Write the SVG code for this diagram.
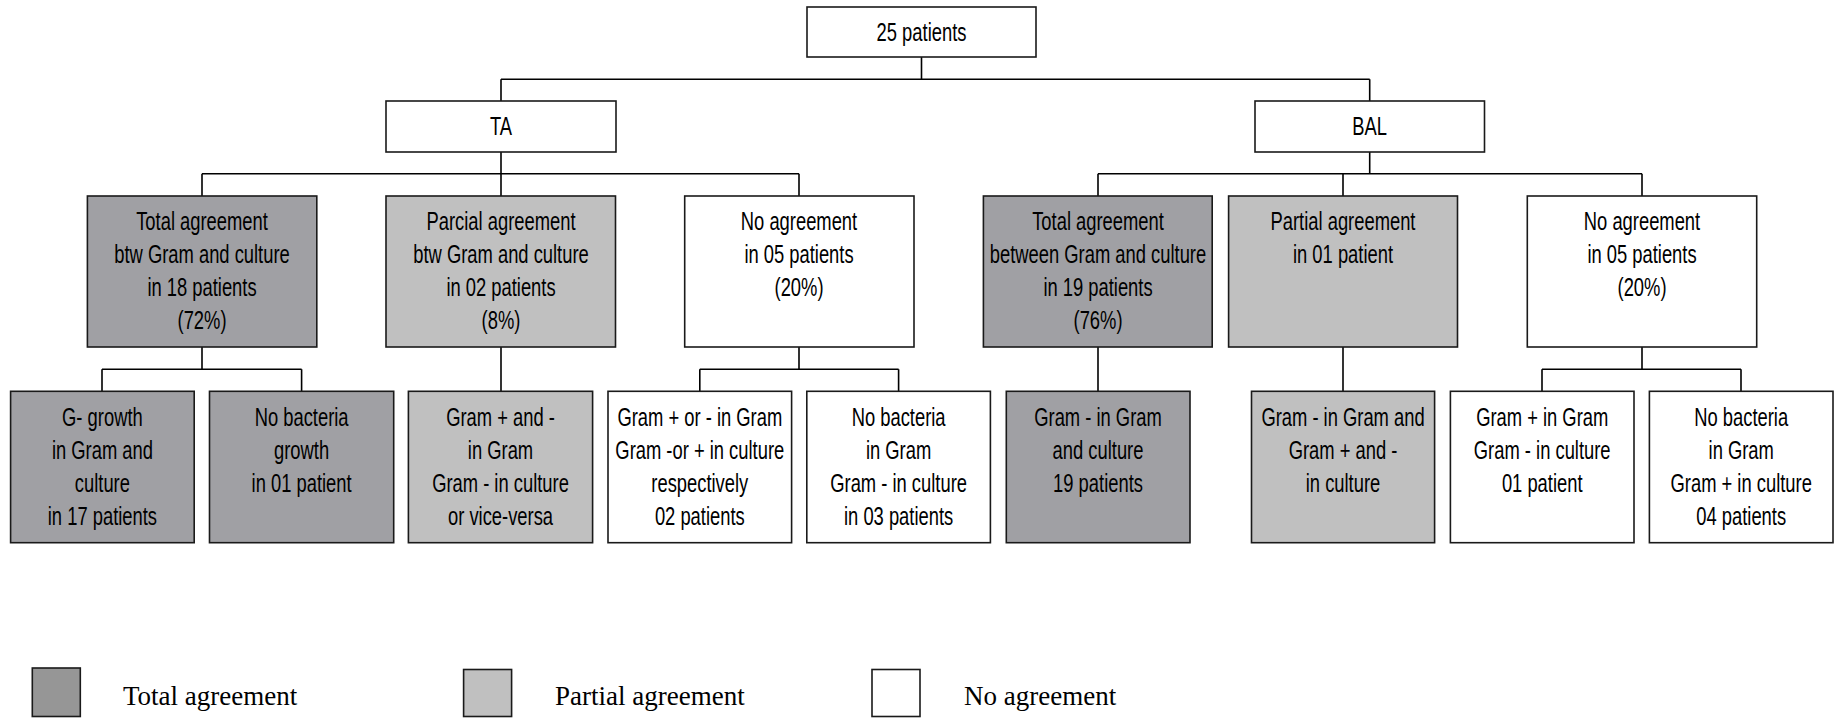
<svg xmlns="http://www.w3.org/2000/svg" width="1840" height="718" viewBox="0 0 1840 718">
<style>
.box{stroke:#1a1a1a;stroke-width:1.6}
.w{fill:#ffffff}
.d{fill:#a0a0a4}
.l{fill:#c0c0c0}
.t{font-family:"Liberation Sans",Arial,sans-serif;font-size:25px;fill:#000;text-anchor:middle}
.lg{font-family:"Liberation Serif","Times New Roman",serif;font-size:27px;fill:#000}
#connectors path{fill:none;stroke:#000;stroke-width:1.6}
</style>
<rect width="1840" height="718" fill="#fff"/>
<g id="connectors">
<path d="M921.5,57V79.3M501,79.3H1369.7M501,79.3V101M1369.7,79.3V101"/>
<path d="M501,152V173.7M202,173.7H799M202,173.7V196M501,173.7V196M799,173.7V196"/>
<path d="M1369.7,152V173.7M1098,173.7H1642M1098,173.7V196M1343,173.7V196M1642,173.7V196"/>
<path d="M202,347V369.3M102,369.3H301.6M102,369.3V391.3M301.6,369.3V391.3"/>
<path d="M501,347V391.3"/>
<path d="M799,347V369.3M699.8,369.3H898.6M699.8,369.3V391.3M898.6,369.3V391.3"/>
<path d="M1098,347V391.3"/>
<path d="M1343,347V391.3"/>
<path d="M1642,347V369.3M1542,369.3H1741M1542,369.3V391.3M1741,369.3V391.3"/>
</g>
<g id="root"><rect class="box w" x="807" y="7" width="229" height="50"/>
<text class="t" transform="translate(921.5,40.5) scale(0.735 1)" x="0">25 patients</text></g>
<g id="ta"><rect class="box w" x="386" y="101" width="230" height="51"/>
<text class="t" transform="translate(501,135) scale(0.735 1)" x="0">TA</text></g>
<g id="bal"><rect class="box w" x="1255" y="101" width="229.5" height="51"/>
<text class="t" transform="translate(1369.7,135) scale(0.735 1)" x="0">BAL</text></g>

<g id="ta-total"><rect class="box d" x="87.4" y="196" width="229.4" height="151"/>
<text class="t" transform="translate(202,229.5) scale(0.735 1)"><tspan x="0">Total agreement</tspan><tspan x="0" dy="33.3">btw Gram and culture</tspan><tspan x="0" dy="33.3">in 18 patients</tspan><tspan x="0" dy="33.3">(72%)</tspan></text></g>
<g id="ta-partial"><rect class="box l" x="386" y="196" width="229.5" height="151"/>
<text class="t" transform="translate(501,229.5) scale(0.735 1)"><tspan x="0">Parcial agreement</tspan><tspan x="0" dy="33.3">btw Gram and culture</tspan><tspan x="0" dy="33.3">in 02 patients</tspan><tspan x="0" dy="33.3">(8%)</tspan></text></g>
<g id="ta-none"><rect class="box w" x="684.7" y="196" width="229.3" height="151"/>
<text class="t" transform="translate(799,229.5) scale(0.735 1)"><tspan x="0">No agreement</tspan><tspan x="0" dy="33.3">in 05 patients</tspan><tspan x="0" dy="33.3">(20%)</tspan></text></g>
<g id="bal-total"><rect class="box d" x="983.4" y="196" width="228.8" height="151"/>
<text class="t" transform="translate(1098,229.5) scale(0.735 1)"><tspan x="0">Total agreement</tspan><tspan x="0" dy="33.3">between Gram and culture</tspan><tspan x="0" dy="33.3">in 19 patients</tspan><tspan x="0" dy="33.3">(76%)</tspan></text></g>
<g id="bal-partial"><rect class="box l" x="1228.6" y="196" width="228.9" height="151"/>
<text class="t" transform="translate(1343,229.5) scale(0.735 1)"><tspan x="0">Partial agreement</tspan><tspan x="0" dy="33.3">in 01 patient</tspan></text></g>
<g id="bal-none"><rect class="box w" x="1527.3" y="196" width="229.4" height="151"/>
<text class="t" transform="translate(1642,229.5) scale(0.735 1)"><tspan x="0">No agreement</tspan><tspan x="0" dy="33.3">in 05 patients</tspan><tspan x="0" dy="33.3">(20%)</tspan></text></g>

<g id="ta-total-a"><rect class="box d" x="10.6" y="391.3" width="183.6" height="151.4"/>
<text class="t" transform="translate(102.4,425.5) scale(0.735 1)"><tspan x="0">G- growth</tspan><tspan x="0" dy="33.3">in Gram and</tspan><tspan x="0" dy="33.3">culture</tspan><tspan x="0" dy="33.3">in 17 patients</tspan></text></g>
<g id="ta-total-b"><rect class="box d" x="209.5" y="391.3" width="184.2" height="151.4"/>
<text class="t" transform="translate(301.6,425.5) scale(0.735 1)"><tspan x="0">No bacteria</tspan><tspan x="0" dy="33.3">growth</tspan><tspan x="0" dy="33.3">in 01 patient</tspan></text></g>
<g id="ta-partial-a"><rect class="box l" x="408.4" y="391.3" width="184.2" height="151.4"/>
<text class="t" transform="translate(500.5,425.5) scale(0.735 1)"><tspan x="0">Gram + and -</tspan><tspan x="0" dy="33.3">in Gram</tspan><tspan x="0" dy="33.3">Gram - in culture</tspan><tspan x="0" dy="33.3">or vice-versa</tspan></text></g>
<g id="ta-none-a"><rect class="box w" x="608" y="391.3" width="183.6" height="151.4"/>
<text class="t" transform="translate(699.8,425.5) scale(0.735 1)"><tspan x="0">Gram + or - in Gram</tspan><tspan x="0" dy="33.3">Gram -or + in culture</tspan><tspan x="0" dy="33.3">respectively</tspan><tspan x="0" dy="33.3">02 patients</tspan></text></g>
<g id="ta-none-b"><rect class="box w" x="806.8" y="391.3" width="183.6" height="151.4"/>
<text class="t" transform="translate(898.6,425.5) scale(0.735 1)"><tspan x="0">No bacteria</tspan><tspan x="0" dy="33.3">in Gram</tspan><tspan x="0" dy="33.3">Gram - in culture</tspan><tspan x="0" dy="33.3">in 03 patients</tspan></text></g>
<g id="bal-total-a"><rect class="box d" x="1006.3" y="391.3" width="183.7" height="151.4"/>
<text class="t" transform="translate(1098,425.5) scale(0.735 1)"><tspan x="0">Gram - in Gram</tspan><tspan x="0" dy="33.3">and culture</tspan><tspan x="0" dy="33.3">19 patients</tspan></text></g>
<g id="bal-partial-a"><rect class="box l" x="1251.5" y="391.3" width="183.1" height="151.4"/>
<text class="t" transform="translate(1343,425.5) scale(0.735 1)"><tspan x="0">Gram - in Gram and</tspan><tspan x="0" dy="33.3">Gram + and -</tspan><tspan x="0" dy="33.3">in culture</tspan></text></g>
<g id="bal-none-a"><rect class="box w" x="1450.4" y="391.3" width="183.6" height="151.4"/>
<text class="t" transform="translate(1542.2,425.5) scale(0.735 1)"><tspan x="0">Gram + in Gram</tspan><tspan x="0" dy="33.3">Gram - in culture</tspan><tspan x="0" dy="33.3">01 patient</tspan></text></g>
<g id="bal-none-b"><rect class="box w" x="1649.4" y="391.3" width="183.6" height="151.4"/>
<text class="t" transform="translate(1741.2,425.5) scale(0.735 1)"><tspan x="0">No bacteria</tspan><tspan x="0" dy="33.3">in Gram</tspan><tspan x="0" dy="33.3">Gram + in culture</tspan><tspan x="0" dy="33.3">04 patients</tspan></text></g>

<g id="legend">
<rect class="box" fill="#969696" x="32.3" y="668" width="48" height="48.5"/>
<text class="lg" x="123" y="705">Total agreement</text>
<rect class="box l" x="463.6" y="669.5" width="48" height="47"/>
<text class="lg" x="555" y="705">Partial agreement</text>
<rect class="box w" x="872" y="669.5" width="48" height="47"/>
<text class="lg" x="964" y="705">No agreement</text>
</g>
</svg>
